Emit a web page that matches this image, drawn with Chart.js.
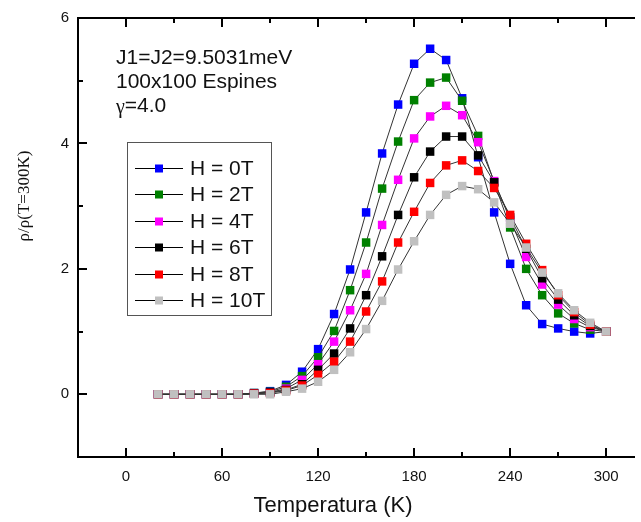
<!DOCTYPE html>
<html>
<head>
<meta charset="utf-8">
<script src="https://cdn.jsdelivr.net/npm/chart.js@4.4.1/dist/chart.umd.min.js"></script>
<style>
    html, body { margin: 0; padding: 0; background: #fff; }
    #grafica { display: block; }
</style>
</head>
<body>
<canvas id="grafica" width="641" height="522"></canvas>
<script>
"use strict";

// Temperatura (K)
const temperaturas = [20, 30, 40, 50, 60, 70, 80, 90, 100, 110, 120, 130, 140, 150, 160, 170, 180, 190, 200, 210, 220, 230, 240, 250, 260, 270, 280, 290, 300];

// rho / rho(T=300K) para cada campo H
const h0T  = [0, 0, 0, 0, 0, 0, 0.02, 0.05, 0.15, 0.36, 0.72, 1.28, 1.99, 2.90, 3.84, 4.62, 5.27, 5.51, 5.33, 4.72, 3.78, 2.90, 2.08, 1.42, 1.12, 1.05, 1.00, 0.97, 1.00];
const h2T  = [0, 0, 0, 0, 0, 0, 0.02, 0.04, 0.12, 0.29, 0.59, 1.01, 1.66, 2.42, 3.28, 4.03, 4.69, 4.97, 5.05, 4.68, 4.12, 3.38, 2.66, 2.00, 1.58, 1.29, 1.13, 1.03, 1.00];
const h4T  = [0, 0, 0, 0, 0, 0, 0.01, 0.03, 0.09, 0.23, 0.48, 0.84, 1.34, 1.92, 2.70, 3.42, 4.08, 4.43, 4.60, 4.45, 4.02, 3.40, 2.78, 2.19, 1.75, 1.43, 1.20, 1.07, 1.00];
const h6T  = [0, 0, 0, 0, 0, 0, 0.01, 0.03, 0.07, 0.16, 0.39, 0.65, 1.05, 1.58, 2.20, 2.86, 3.46, 3.87, 4.11, 4.11, 3.81, 3.38, 2.82, 2.32, 1.85, 1.51, 1.26, 1.09, 1.00];
const h8T  = [0, 0, 0, 0, 0, 0, 0.01, 0.02, 0.06, 0.14, 0.31, 0.52, 0.84, 1.32, 1.80, 2.42, 2.91, 3.37, 3.65, 3.73, 3.56, 3.29, 2.86, 2.40, 1.98, 1.58, 1.31, 1.11, 1.00];
const h10T = [0, 0, 0, 0, 0, 0, 0, 0, 0.04, 0.09, 0.20, 0.39, 0.67, 1.04, 1.49, 1.99, 2.44, 2.86, 3.18, 3.32, 3.27, 3.06, 2.72, 2.34, 1.94, 1.61, 1.34, 1.14, 1.00];

const etiquetas = ["H = 0T", "H = 2T", "H = 4T", "H = 6T", "H = 8T", "H = 10T"];
const series = [h0T, h2T, h4T, h6T, h8T, h10T];
const colores = ["#0000ff", "#008000", "#ff00ff", "#000000", "#ff0000", "#c0c0c0"];

// ticks
const xMayores = [0, 60, 120, 180, 240, 300];
const xMenores = [30, 90, 150, 210, 270];
const yMayores = [0, 2, 4, 6];
const yMenores = [-1, 1, 3, 5];

const notas = ["J1=J2=9.5031meV", "100x100 Espines", "=4.0"];

const SANS = "'Liberation Sans', Arial, sans-serif";
const SERIF = "'Liberation Serif', 'Times New Roman', serif";
const TEXTO = "#111";

const marcoPlugin = {
    id: "marco",
    afterDraw(chart) {
        const { ctx, chartArea: a, scales: { x, y } } = chart;
        ctx.save();
        ctx.strokeStyle = "#000";
        ctx.lineWidth = 2;
        ctx.lineCap = "butt";

        ctx.beginPath();
        ctx.moveTo(a.left, a.top);
        ctx.lineTo(a.right, a.top);
        ctx.moveTo(a.left, a.top - 1);
        ctx.lineTo(a.left, a.bottom + 1);
        ctx.moveTo(a.left - 1, a.bottom);
        ctx.lineTo(a.right, a.bottom);
        ctx.stroke();

        const tickX = (v, len) => {
            const px = Math.round(x.getPixelForValue(v));
            ctx.moveTo(px, a.bottom);
            ctx.lineTo(px, a.bottom - len);
            ctx.moveTo(px, a.top);
            ctx.lineTo(px, a.top + len);
        };
        const tickY = (v, len) => {
            const py = Math.round(y.getPixelForValue(v));
            ctx.moveTo(a.left, py);
            ctx.lineTo(a.left + len, py);
        };
        ctx.beginPath();
        xMayores.forEach(v => tickX(v, 9));
        xMenores.forEach(v => tickX(v, 5));
        yMayores.forEach(v => tickY(v, 9));
        yMenores.forEach(v => tickY(v, 5));
        ctx.stroke();

        // titulos de ejes
        ctx.fillStyle = TEXTO;
        ctx.textAlign = "center";
        ctx.textBaseline = "middle";
        ctx.font = `22px ${SANS}`;
        ctx.fillText("Temperatura (K)", 333, 506);

        ctx.save();
        ctx.translate(25, 196);
        ctx.rotate(-Math.PI / 2);
        ctx.font = `17px ${SERIF}`;
        ctx.fillText("ρ/ρ(T=300K)", 0, 0);
        ctx.restore();

        // notas
        ctx.textAlign = "left";
        ctx.font = `21px ${SANS}`;
        ctx.fillText(notas[0], 116, 58);
        ctx.fillText(notas[1], 116, 82);
        ctx.font = `20px ${SERIF}`;
        ctx.fillText("γ", 116, 108);
        const gw = ctx.measureText("γ").width;
        ctx.font = `21px ${SANS}`;
        ctx.fillText(notas[2], 116 + gw, 106);

        // leyenda
        ctx.fillStyle = "#fff";
        ctx.fillRect(128, 143, 143, 172);
        ctx.strokeStyle = "#555";
        ctx.lineWidth = 1;
        ctx.strokeRect(127.5, 142.5, 144, 173);

        etiquetas.forEach((txt, i) => {
            const cy = Math.round(168 + i * 26.4);
            ctx.strokeStyle = "#000";
            ctx.lineWidth = 1;
            ctx.beginPath();
            ctx.moveTo(135, cy + 0.5);
            ctx.lineTo(183, cy + 0.5);
            ctx.stroke();
            ctx.fillStyle = colores[i];
            ctx.fillRect(155, cy - 3.5, 8, 8);
            ctx.fillStyle = TEXTO;
            ctx.font = `21px ${SANS}`;
            ctx.textBaseline = "middle";
            ctx.fillText(txt, 190, cy + 1);
        });

        ctx.restore();
    }
};

const datasets = series.map((valores, i) => ({
    label: etiquetas[i],
    data: temperaturas.map((t, k) => ({ x: t, y: valores[k] })),
    borderColor: "#333",
    borderWidth: 1,
    backgroundColor: colores[i],
    pointStyle: "rect",
    pointRadius: 6,
    pointBorderWidth: 0,
    pointBorderColor: colores[i],
    pointBackgroundColor: colores[i],
    tension: 0,
    order: series.length - i,
}));

new Chart(document.querySelector("#grafica"), {
    type: "line",
    data: { datasets },
    options: {
        responsive: false,
        animation: false,
        events: [],
        layout: { padding: { top: 15, right: 6, left: 0, bottom: 0 } },
        plugins: {
            legend: { display: false },
            tooltip: { enabled: false },
        },
        scales: {
            x: {
                type: "linear",
                min: -30,
                max: 318,
                afterFit: (s) => { s.height = 65; },
                afterBuildTicks: (s) => { s.ticks = xMayores.map(v => ({ value: v })); },
                grid: { display: false, drawTicks: false },
                border: { display: false },
                ticks: {
                    padding: 11,
                    maxRotation: 0,
                    autoSkip: false,
                    color: TEXTO,
                    font: { family: SANS, size: 15 },
                },
            },
            y: {
                type: "linear",
                min: -1,
                max: 6,
                afterFit: (s) => { s.width = 78; },
                afterBuildTicks: (s) => { s.ticks = yMayores.map(v => ({ value: v })); },
                grid: { display: false, drawTicks: false },
                border: { display: false },
                ticks: {
                    padding: 9,
                    color: TEXTO,
                    font: { family: SANS, size: 15 },
                },
            },
        },
    },
    plugins: [marcoPlugin],
});
</script>
</body>
</html>
